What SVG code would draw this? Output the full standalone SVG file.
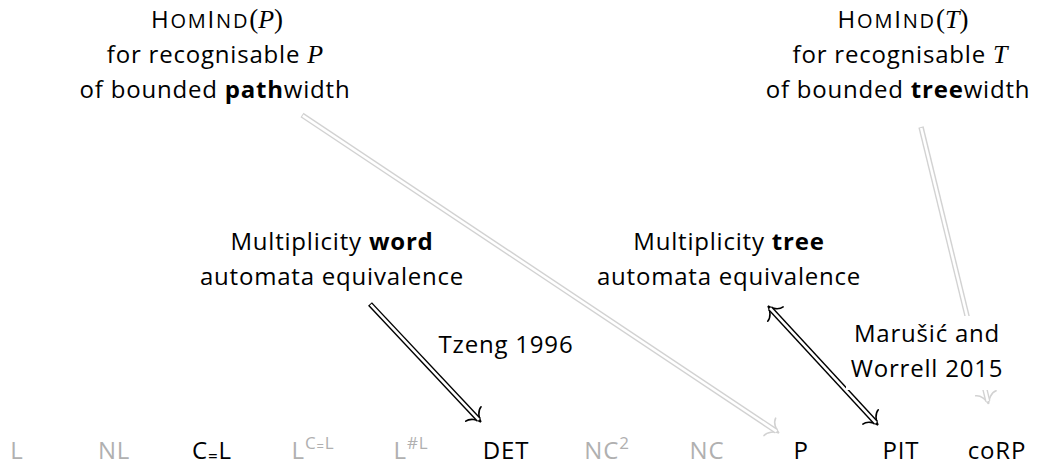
<svg xmlns="http://www.w3.org/2000/svg" width="1040" height="466" viewBox="0 0 1040 466">
<style>
text{font-family:"Open Sans","Noto Sans","DejaVu Sans",sans-serif;font-size:24px;letter-spacing:0.8px;fill:#000}
.c{text-anchor:middle}
.g{fill:#b0b0b0}
.b{font-weight:bold}
.h{letter-spacing:1.8px}
.sc{font-size:20px}
.cal{font-family:"Liberation Serif",serif;font-style:italic;font-size:26px;letter-spacing:0}
.par{font-family:"Liberation Serif",serif;font-size:27px;letter-spacing:0}
.o{stroke:#000;stroke-width:5.4;fill:none;stroke-linecap:butt}
.og{stroke:#d2d2d2}
.i{stroke:#fff;stroke-width:2.6;fill:none;stroke-linecap:butt}
</style>
<defs>
<marker id="hk" markerUnits="userSpaceOnUse" markerWidth="26" markerHeight="26" viewBox="-13 -13 26 26" refX="0" refY="0" orient="auto-start-reverse" overflow="visible">
<path d="M-8,-10.5 C-7.5,-5.5 -1.5,-0.9 3,0 C-1.5,0.9 -7.5,5.5 -8,10.5" fill="none" stroke="#000" stroke-width="1.6" stroke-linecap="round"/>
</marker>
<marker id="hg" markerUnits="userSpaceOnUse" markerWidth="26" markerHeight="26" viewBox="-13 -13 26 26" refX="0" refY="0" orient="auto-start-reverse" overflow="visible">
<path d="M-8,-10.5 C-7.5,-5.5 -1.5,-0.9 3,0 C-1.5,0.9 -7.5,5.5 -8,10.5" fill="none" stroke="#d2d2d2" stroke-width="1.6" stroke-linecap="round"/>
</marker>
</defs>

<g id="connectors">
<g id="e-path-P">
<line class="o og" x1="302" y1="115" x2="776.5" y2="431.3" marker-end="url(#hg)"/>
<line class="i" x1="302.8" y1="115.6" x2="776.5" y2="431.3"/>
</g>
<g id="e-tree-coRP">
<line class="o og" x1="921" y1="127" x2="987.8" y2="401.1" marker-end="url(#hg)"/>
<line class="i" x1="921.2" y1="128" x2="987.8" y2="401.1"/>
</g>
<g id="e-word-DET">
<line class="o" x1="370" y1="304" x2="478.9" y2="419.8" marker-end="url(#hk)"/>
<line class="i" x1="370.7" y1="304.7" x2="478.9" y2="419.8"/>
</g>
<g id="e-mta-PIT">
<line class="o" x1="770" y1="308.2" x2="876" y2="422.8" marker-start="url(#hk)" marker-end="url(#hk)"/>
<line class="i" x1="770" y1="308.2" x2="876" y2="422.8"/>
</g>
</g>

<g id="n-hom-path">
<text class="c h" x="217" y="28">H<tspan class="sc">OM</tspan>I<tspan class="sc">ND</tspan><tspan class="par">(</tspan><tspan class="cal">P</tspan><tspan class="par">)</tspan></text>
<text class="c" x="215" y="63">for recognisable <tspan class="cal">P</tspan></text>
<text class="c" x="215" y="98">of bounded <tspan class="b">path</tspan>width</text>
</g>
<g id="n-hom-tree">
<text class="c h" x="903" y="28">H<tspan class="sc">OM</tspan>I<tspan class="sc">ND</tspan><tspan class="par">(</tspan><tspan class="cal">T</tspan><tspan class="par">)</tspan></text>
<text class="c" x="900" y="63">for recognisable <tspan class="cal">T</tspan></text>
<text class="c" x="898" y="98">of bounded <tspan class="b">tree</tspan>width</text>
</g>
<g id="n-mwa">
<text class="c" x="332" y="250">Multiplicity <tspan class="b">word</tspan></text>
<text class="c" x="332" y="285">automata equivalence</text>
</g>
<g id="n-mta">
<text class="c" x="729" y="250">Multiplicity <tspan class="b">tree</tspan></text>
<text class="c" x="729" y="285">automata equivalence</text>
</g>
<g id="l-tzeng">
<text class="c" x="506" y="353">Tzeng 1996</text>
</g>
<g id="l-marusic">
<rect x="846" y="316" width="164" height="74" fill="#fff"/>
<text class="c" x="927" y="342">Marušić and</text>
<text class="c" x="927" y="377">Worrell 2015</text>
</g>

<g id="n-L"><text class="c g" x="17" y="459">L</text></g>
<g id="n-NL"><text class="c g" x="114" y="459">NL</text></g>
<g id="n-CeqL"><text class="c" x="212" y="459">C<tspan font-size="17" dy="3">=</tspan><tspan dy="-3">L</tspan></text></g>
<g id="n-LCeqL"><text class="c g" x="313" y="459">L<tspan font-size="17" dy="-10">C</tspan><tspan font-size="13" dy="2">=</tspan><tspan font-size="17" dy="-2">L</tspan></text></g>
<g id="n-LsharpL"><text class="c g" x="411" y="459">L<tspan font-size="17" dy="-10">#L</tspan></text></g>
<g id="n-DET"><text class="c" x="506" y="459">DET</text></g>
<g id="n-NC2"><text class="c g" x="607" y="459">NC<tspan font-size="17" dy="-10">2</tspan></text></g>
<g id="n-NC"><text class="c g" x="707" y="459">NC</text></g>
<g id="n-P"><text class="c" x="801" y="459">P</text></g>
<g id="n-PIT"><text class="c" x="901" y="459">PIT</text></g>
<g id="n-coRP"><text class="c" x="997" y="459">coRP</text></g>
</svg>
